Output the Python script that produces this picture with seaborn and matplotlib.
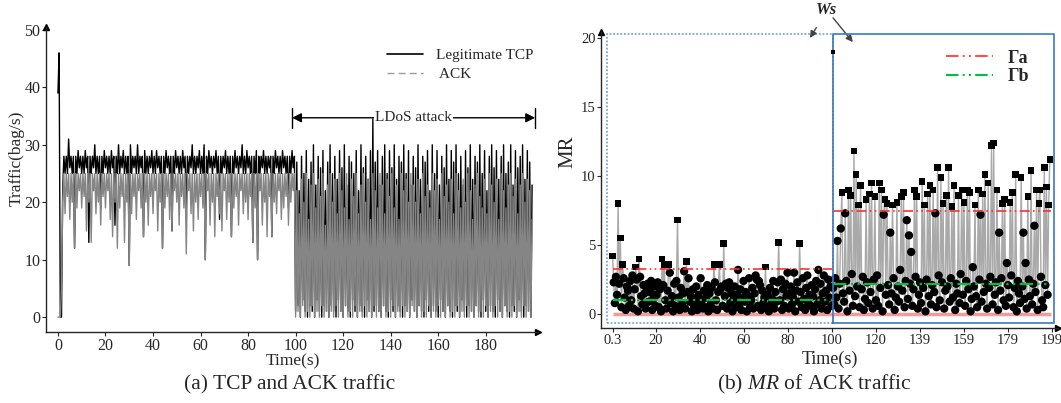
import numpy as np
import matplotlib
matplotlib.use("Agg")
import matplotlib.pyplot as plt
from matplotlib.lines import Line2D
import seaborn as sns

# (a) TCP and ACK traffic, sampled every 0.5 s (one row = 10 s)
tcp_rate = [39, 46, 0, 0, 22, 28, 25, 28, 25, 31, 26, 28, 25, 28, 12, 28, 25, 29, 26, 28,
            25, 28, 25, 29, 26, 28, 13, 28, 25, 28, 26, 30, 25, 28, 25, 28, 19, 28, 25, 29,
            26, 28, 25, 28, 25, 29, 26, 28, 16, 28, 25, 30, 25, 28, 26, 29, 25, 28, 25, 28,
            9, 30, 25, 28, 26, 28, 25, 30, 25, 28, 26, 28, 14, 29, 25, 28, 25, 28, 26, 29,
            25, 28, 25, 29, 26, 28, 25, 28, 12, 28, 25, 29, 26, 28, 25, 28, 15, 28, 25, 29,
            26, 28, 25, 28, 25, 29, 26, 28, 18, 28, 25, 28, 26, 30, 25, 28, 25, 28, 26, 29,
            25, 28, 25, 30, 10, 28, 25, 29, 26, 28, 25, 28, 26, 29, 25, 28, 17, 28, 25, 28,
            26, 29, 25, 28, 25, 28, 14, 28, 25, 29, 26, 28, 25, 28, 26, 30, 25, 28, 25, 29,
            26, 28, 25, 28, 13, 28, 25, 29, 10, 28, 25, 28, 26, 29, 25, 28, 25, 28, 26, 28,
            14, 28, 25, 29, 26, 28, 25, 28, 25, 29, 26, 28, 25, 28, 19, 28, 25, 29, 26, 28,
            1, 27, 2, 22, 0, 28, 3, 25, 1, 29, 0, 24, 2, 27, 1, 30, 0, 23, 3, 28,
            1, 26, 0, 29, 2, 22, 1, 27, 0, 30, 2, 25, 1, 28, 0, 24, 3, 29, 1, 26,
            0, 30, 2, 23, 1, 28, 0, 27, 3, 25, 1, 29, 0, 22, 2, 30, 1, 26, 0, 28,
            3, 24, 1, 29, 0, 34.5, 1, 27, 2, 29, 1, 23, 0, 28, 2, 30, 1, 25, 0, 29,
            3, 26, 1, 30, 0, 24, 2, 28, 1, 27, 0, 30, 2, 25, 1, 29, 0, 23, 3, 28,
            1, 26, 0, 30, 2, 24, 1, 28, 0, 27, 3, 29, 1, 22, 0, 30, 2, 25, 1, 29,
            0, 23, 3, 28, 1, 26, 0, 30, 2, 24, 1, 29, 0, 27, 2, 30, 1, 25, 0, 28,
            3, 23, 1, 29, 0, 26, 2, 30, 1, 24, 0, 28, 2, 27, 1, 30, 0, 25, 3, 29,
            1, 22, 0, 28, 2, 30, 1, 26, 0, 29, 3, 24, 1, 28, 0, 30, 2, 25, 1, 27,
            0, 30, 2, 23, 1, 29, 0, 26, 3, 28, 1, 30, 0, 24, 2, 29, 1, 27, 0, 23]
ack_rate = [0, 0, 0, 5, 20, 25, 18, 25, 21, 25, 17, 25, 20, 25, 12, 25, 19, 25, 22, 25,
            19, 25, 21, 25, 15, 25, 20, 25, 13, 25, 22, 25, 18, 25, 20, 25, 16, 25, 21, 25,
            19, 25, 22, 25, 17, 25, 14, 25, 20, 25, 12, 25, 19, 25, 21, 25, 13, 25, 20, 25,
            9, 25, 18, 25, 21, 25, 17, 25, 22, 25, 19, 25, 14, 25, 20, 25, 16, 25, 21, 25,
            18, 25, 22, 25, 15, 25, 20, 25, 12, 25, 19, 25, 21, 25, 17, 25, 15, 25, 22, 25,
            20, 25, 16, 25, 21, 25, 19, 25, 11, 25, 22, 25, 18, 25, 15, 25, 20, 25, 17, 25,
            21, 25, 19, 25, 10, 25, 22, 25, 16, 25, 20, 25, 14, 25, 21, 25, 18, 25, 15, 25,
            22, 25, 17, 25, 20, 25, 14, 25, 19, 25, 21, 25, 16, 25, 22, 25, 18, 25, 20, 25,
            17, 25, 21, 25, 13, 25, 19, 25, 10, 25, 22, 25, 16, 25, 20, 25, 14, 25, 21, 25,
            14, 25, 20, 25, 18, 25, 22, 25, 17, 25, 19, 25, 21, 25, 16, 25, 20, 25, 22, 25,
            0, 22, 1, 18, 0, 24, 2, 20, 0, 25, 1, 17, 0, 23, 2, 25, 0, 19, 1, 24,
            0, 21, 2, 25, 0, 16, 1, 23, 0, 25, 1, 20, 0, 24, 2, 18, 0, 25, 1, 22,
            0, 19, 2, 25, 0, 17, 1, 24, 0, 21, 2, 25, 0, 18, 1, 23, 0, 25, 2, 20,
            0, 24, 1, 17, 0, 25, 2, 22, 0, 19, 1, 25, 0, 23, 2, 18, 0, 24, 1, 21,
            0, 25, 2, 19, 0, 23, 1, 17, 0, 25, 2, 22, 0, 24, 1, 20, 0, 25, 2, 23,
            1, 20, 0, 24, 2, 18, 0, 25, 1, 21, 0, 23, 2, 19, 0, 25, 1, 22, 0, 24,
            2, 17, 0, 25, 1, 21, 0, 23, 2, 20, 0, 24, 1, 18, 0, 25, 2, 22, 0, 19,
            1, 24, 0, 20, 2, 25, 0, 22, 1, 17, 0, 23, 2, 25, 0, 21, 1, 19, 0, 24,
            2, 18, 0, 25, 1, 23, 0, 20, 2, 24, 0, 17, 1, 25, 0, 22, 2, 19, 0, 23,
            1, 25, 0, 21, 2, 24, 0, 18, 1, 23, 0, 25, 2, 20, 0, 24, 1, 22, 0, 17]
a_xticks = [0, 20, 40, 60, 80, 100, 120, 140, 160, 180]
a_yticks = [0, 10, 20, 30, 40, 50]

# (b) MR of ACK traffic, two windows of half-second samples
mr_normal = [4.2, 2.3, 0.8, 2.7, 1.4, 8.0, 2.2, 5.5, 0.5, 3.6,
             2.6, 1.2, 0.3, 2.0, 1.7, 0.6, 2.4, 1.0, 2.8, 0.4,
             1.8, 3.4, 2.5, 0.2, 4.0, 2.7, 1.3, 0.7, 2.1, 1.5,
             0.4, 1.9, 2.2, 0.9, 1.6, 2.4, 0.3, 1.1, 2.0, 0.6,
             1.4, 2.3, 0.5, 1.8, 0.2, 4.0, 2.1, 3.6, 1.0, 0.4,
             1.7, 3.6, 3.0, 0.8, 1.3, 0.2, 2.2, 0.6, 2.4, 6.8,
             1.2, 0.3, 1.9, 0.7, 1.5, 3.1, 0.4, 3.8, 1.6, 2.6,
             0.9, 1.3, 0.2, 1.8, 0.6, 1.1, 2.0, 0.3, 1.4, 0.8,
             2.6, 1.0, 0.4, 1.7, 0.5, 1.2, 2.1, 0.2, 1.5, 0.7,
             1.9, 0.4, 3.6, 2.3, 1.0, 0.3, 1.6, 3.6, 1.8, 2.0,
             0.6, 5.1, 1.3, 2.2, 0.4, 1.9, 2.3, 0.8, 1.5, 0.2,
             1.1, 2.0, 0.5, 1.4, 3.2, 0.7, 1.8, 0.3, 1.2, 2.4,
             0.9, 1.6, 0.2, 1.3, 2.6, 0.5, 1.0, 1.9, 0.4, 1.5,
             2.8, 2.5, 0.6, 2.4, 2.1, 0.3, 1.7, 0.8, 1.2, 3.4,
             0.5, 1.4, 0.2, 1.9, 0.7, 1.1, 2.4, 0.4, 1.6, 0.9,
             2.3, 5.2, 1.0, 2.5, 0.3, 1.8, 0.6, 2.2, 1.3, 3.0,
             0.4, 1.5, 2.0, 0.7, 1.2, 3.0, 0.2, 1.7, 2.3, 0.9,
             5.1, 1.6, 0.5, 2.6, 1.1, 0.3, 1.9, 2.8, 0.8, 1.4,
             0.6, 2.1, 1.3, 0.2, 1.8, 2.4, 0.7, 3.2, 1.0, 2.2,
             0.4, 1.5, 2.8, 0.9, 1.7, 0.3, 2.5, 1.2, 2.0, 0.6]
mr_attack = [1.9, 0.7, 2.6, 1.2, 5.3, 0.4, 2.2, 6.2, 8.8, 1.5,
             0.9, 7.3, 2.4, 0.2, 9.0, 1.7, 8.6, 2.9, 0.6, 11.8,
             1.3, 10.1, 2.0, 7.9, 0.5, 9.3, 1.8, 2.7, 0.3, 1.1,
             8.3, 2.3, 0.8, 8.7, 1.6, 9.5, 0.4, 2.5, 8.5, 1.0,
             2.8, 0.6, 9.5, 1.9, 9.0, 0.2, 7.2, 8.3, 1.4, 8.0,
             2.1, 0.7, 5.9, 1.5, 7.9, 2.6, 0.3, 1.2, 8.1, 2.0,
             0.9, 3.2, 8.5, 1.7, 8.8, 0.5, 2.4, 6.8, 1.1, 5.7,
             2.2, 4.5, 0.6, 1.8, 9.0, 2.7, 8.5, 0.4, 1.4, 2.3,
             0.8, 9.6, 1.9, 7.9, 0.2, 2.5, 8.7, 1.3, 9.3, 0.7,
             2.1, 9.0, 1.6, 7.3, 0.5, 10.6, 2.8, 1.0, 9.9, 2.3,
             8.0, 0.4, 1.7, 8.6, 2.0, 10.6, 0.9, 2.6, 7.8, 1.2,
             9.3, 0.3, 2.2, 1.5, 8.6, 0.8, 2.9, 9.0, 1.4, 8.1,
             0.6, 2.4, 9.0, 1.8, 8.8, 0.2, 1.1, 3.4, 2.0, 7.9,
             1.3, 0.5, 9.0, 2.5, 7.2, 0.9, 8.7, 1.6, 10.1, 2.2,
             0.4, 9.5, 1.9, 2.7, 12.2, 0.7, 12.4, 1.4, 2.3, 9.0,
             0.3, 5.9, 1.7, 2.6, 8.0, 1.0, 8.3, 0.6, 3.7, 2.1,
             1.2, 8.1, 2.8, 8.8, 0.5, 1.9, 10.1, 0.2, 2.4, 1.5,
             0.8, 9.9, 2.0, 5.9, 1.1, 3.7, 0.4, 8.5, 2.5, 1.3,
             10.4, 0.7, 2.2, 6.4, 1.6, 9.0, 0.3, 8.0, 9.0, 2.7,
             1.0, 0.5, 10.6, 2.1, 9.2, 1.4, 7.9, 11.2]
mr_ws_peak = 19.0
gamma_a = [3.3, 7.5]
gamma_b = [1.0, 2.2]
b_xticks = [0.3, 20, 40, 60, 80, 100, 120, 140, 160, 180, 200]
b_xlabels = ["0.3", "20", "40", "60", "80", "100", "120", "139", "159", "179", "199"]
b_yticks = [0, 5, 10, 15, 20]

t_a = 0.5 * np.arange(len(tcp_rate))
t_normal = 0.3 + 0.5 * np.arange(len(mr_normal))
t_attack = 100.5 + 0.5 * np.arange(len(mr_attack))

sns.set_style("ticks")
plt.rcParams["font.family"] = ["Liberation Serif", "DejaVu Serif"]
plt.rcParams["mathtext.fontset"] = "custom"
plt.rcParams["mathtext.it"] = "Liberation Serif:italic"
plt.rcParams["mathtext.rm"] = "Liberation Serif"

fig = plt.figure(figsize=(10.61, 4.03), dpi=100)
ax1 = fig.add_axes([0.0434, 0.176, 0.4637, 0.757])
ax2 = fig.add_axes([0.5664, 0.186, 0.4307, 0.7345])


def arrow_axes(ax):
    sns.despine(ax=ax)
    for s in ["left", "bottom"]:
        ax.spines[s].set_linewidth(1.0)
    ax.plot(1, 0, ">k", transform=ax.transAxes, clip_on=False, ms=5)
    ax.plot(0, 1, "^k", transform=ax.transAxes, clip_on=False, ms=5)
    ax.tick_params(direction="out", length=3, width=0.8, pad=1)


# ---- panel (a)
sns.lineplot(x=t_a, y=tcp_rate, ax=ax1, color="black", lw=1.0, estimator=None)
sns.lineplot(x=t_a, y=ack_rate, ax=ax1, color="#858585", lw=1.0, estimator=None)
ax1.set_xlim(-5, 202)
ax1.set_ylim(-2.6, 50.5)
ax1.set_xticks(a_xticks)
ax1.set_yticks(a_yticks)
ax1.tick_params(labelsize=11.5)
arrow_axes(ax1)
ax1.set_ylabel("Traffic(bag/s)", fontsize=12.5)
ax1.yaxis.set_label_coords(-0.043, 0.57)
ax1.set_xlabel("Time(s)", fontsize=12.5)
ax1.xaxis.set_label_coords(0.502, -0.07)

handles_a = [Line2D([], [], color="black", lw=1.2),
             Line2D([], [], color="#9a9a9a", lw=1.0, ls=(0, (5, 3)))]
ax1.legend(handles_a, ["Legitimate TCP", " ACK"], loc="upper left",
           bbox_to_anchor=(0.68, 0.95), frameon=False, fontsize=11,
           handlelength=2.4, labelspacing=0.35, borderaxespad=0)

ax1.annotate("", xy=(98.5, 34.7), xytext=(200.8, 34.7),
             arrowprops=dict(arrowstyle="<|-|>", color="black", lw=1.0,
                             mutation_scale=14, shrinkA=0, shrinkB=0))
for xe in [98.5, 200.8]:
    ax1.plot([xe, xe], [33.0, 36.4], color="black", lw=1.0)
ax1.text(149.5, 34.7, "LDoS attack", ha="center", va="center", fontsize=11,
         bbox=dict(boxstyle="square,pad=0.05", fc="white", ec="none"))

# ---- panel (b)
ax2.set_xlim(-5, 202.7)
ax2.set_ylim(-1.01, 20.43)

ax2.plot([-2.3, 100.5, 100.5, -2.3, -2.3], [-0.65, -0.65, 20.3, 20.3, -0.65],
         color="#7aa7dc", lw=1.3, ls=(0, (1, 1)), zorder=1)
ax2.plot([100.5, 201, 201, 100.5, 100.5], [-0.65, -0.65, 20.3, 20.3, -0.65],
         color="#3d78c2", lw=1.2, zorder=6)

ax2.hlines(0, 0.3, 199.5, color="#f49a9a", lw=2.5, zorder=2)

for tt, mr, ga in [(t_normal, mr_normal, gamma_a[0]), (t_attack, mr_attack, gamma_a[1])]:
    mr = np.array(mr)
    sns.lineplot(x=tt, y=mr, ax=ax2, color="#a9a9a9", lw=1.0, estimator=None, zorder=3)
    low = mr <= ga
    sns.scatterplot(x=tt[low], y=mr[low], ax=ax2, color="black", marker="o",
                    s=36, edgecolor="none", zorder=4)
    sns.scatterplot(x=tt[~low], y=mr[~low], ax=ax2, color="black", marker="s",
                    s=22, edgecolor="none", zorder=4)
sns.scatterplot(x=[100.4], y=[mr_ws_peak], ax=ax2, color="black", marker="s",
                s=7, edgecolor="none", zorder=7)

ga_style = (0, (6, 2, 1, 2, 1, 2))
ax2.hlines(gamma_a[0], 0.3, 100, color="#ff3030", lw=1.2, ls=ga_style, zorder=5)
ax2.hlines(gamma_a[1], 100.5, 199.5, color="#ff3030", lw=1.2, ls=ga_style, zorder=5)
ax2.hlines(gamma_b[0], 0.3, 100, color="#00c040", lw=1.6, ls=ga_style, zorder=5)
ax2.hlines(gamma_b[1], 100.5, 199.5, color="#00c040", lw=1.6, ls=ga_style, zorder=5)

ax2.set_xticks(b_xticks)
ax2.set_xticklabels(b_xlabels)
ax2.set_yticks(b_yticks)
ax2.tick_params(labelsize=10.5)
arrow_axes(ax2)
ax2.set_ylabel("MR", fontsize=15)
ax2.yaxis.set_label_coords(-0.052, 0.595)
ax2.set_xlabel("Time(s)", fontsize=13)
ax2.xaxis.set_label_coords(0.501, -0.075)

handles_b = [Line2D([], [], color="#ff5050", lw=1.5, ls=ga_style),
             Line2D([], [], color="#00c040", lw=1.5, ls=ga_style)]
ax2.legend(handles_b, ["Γa", "Γb"], loc="upper left",
           bbox_to_anchor=(0.74, 0.965), frameon=False,
           prop={"size": 13, "weight": "bold"},
           handlelength=2.6, labelspacing=0.1, borderaxespad=0)

ax2.annotate("Ws", xy=(90, 20.0), xytext=(97.7, 22.0), ha="center", va="center",
             fontsize=12, fontweight="bold", fontstyle="italic",
             annotation_clip=False,
             arrowprops=dict(arrowstyle="-|>", color="#444444", lw=1.0,
                             shrinkA=5, shrinkB=0, mutation_scale=10))
ax2.annotate("", xy=(109.5, 19.7), xytext=(97.7, 22.0), annotation_clip=False,
             arrowprops=dict(arrowstyle="-|>", color="#444444", lw=1.0,
                             shrinkA=7, shrinkB=0, mutation_scale=10))

fig.text(0.273, 0.045, "(a) TCP and ACK traffic", ha="center", va="center", fontsize=15.5)
fig.text(0.768, 0.045, r"(b) $\mathit{MR}$ of ACK traffic", ha="center", va="center",
         fontsize=15.5)

fig.savefig("out.png", dpi=100)
